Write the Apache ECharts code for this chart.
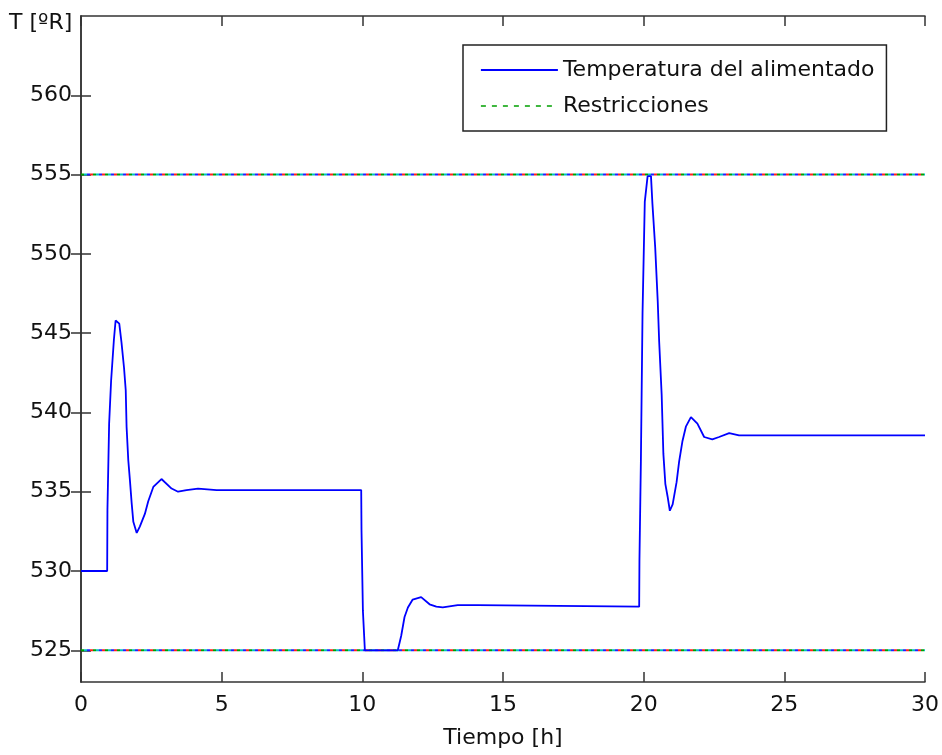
<!DOCTYPE html>
<html>
<head>
<meta charset="utf-8">
<title>Temperatura del alimentado</title>
<script src="https://cdn.jsdelivr.net/npm/echarts@6/dist/echarts.min.js"></script>
<style>
  html, body { margin: 0; padding: 0; background: #fff; }
  #chart { width: 942px; height: 755px; }
</style>
</head>
<body>
<div id="chart"></div>
<script>
/* datos */
const timeHours = [
  0, 0.93, 0.94, 1.0, 1.07, 1.17, 1.23, 1.36, 1.44, 1.53, 1.59, 1.62, 1.68, 1.74, 1.80, 1.86,
  1.98, 2.09, 2.27, 2.39, 2.57, 2.86, 3.22, 3.45, 3.75, 4.16, 4.82, 9.96,
  9.97, 10.02, 10.09, 11.26, 11.38, 11.50, 11.62, 11.79, 12.09, 12.39, 12.63, 12.86, 13.39,
  14.10, 14.16, 19.84,
  19.85, 19.90, 19.96, 20.04, 20.14, 20.26, 20.31, 20.41, 20.50, 20.55, 20.64, 20.70, 20.77,
  20.85, 20.93, 21.03, 21.17, 21.26, 21.38, 21.50, 21.68, 21.91, 22.15, 22.44, 22.68, 23.04,
  23.39, 30
];
const feedTemp = [
  530.0, 530.0, 533.9, 539.3, 542.0, 544.6, 545.8, 545.6, 544.4, 542.8, 541.4, 539.1, 537.0, 535.7, 534.3, 533.1,
  532.4, 532.8, 533.6, 534.4, 535.3, 535.8, 535.2, 535.0, 535.1, 535.2, 535.1, 535.1,
  532.6, 527.5, 525.0, 525.0, 525.9, 527.1, 527.7, 528.2, 528.35, 527.9, 527.75, 527.7, 527.85,
  527.85, 527.75, 527.75,
  530.7, 536.8, 546.3, 553.3, 554.9, 554.9, 553.2, 550.4, 547.0, 544.5, 541.1, 537.4, 535.5,
  534.7, 533.8, 534.2, 535.6, 536.9, 538.2, 539.1, 539.7, 539.3, 538.45, 538.3, 538.45, 538.7,
  538.55, 538.55
];
const limitLow = 525;
const limitHigh = 555;
const timeRange = [0, 30];
const yTicks = [525, 530, 535, 540, 545, 550, 555, 560];

const font = 'DejaVu Sans';
const axisColor = '#333';

let myChart = echarts.init(document.getElementById('chart'));

let tempData = timeHours.map((t, i) => [t, feedTemp[i]]);

/* lineas de restriccion: puntos de colores superpuestos como en la figura */
let dotColors = ['#00a000', '#ff2020', '#2020ff', '#00c0c0'];
let limitSeries = [];
dotColors.forEach((c, k) => {
  [limitLow, limitHigh].forEach((lim) => {
    limitSeries.push({
      name: k === 0 ? 'Restricciones' : 'r' + k,
      type: 'line',
      symbol: 'none',
      silent: true,
      data: timeRange.map((t) => [t, lim]),
      lineStyle: { color: c, width: 2, type: [3, 9], dashOffset: k * 3 },
      itemStyle: { color: c },
      z: 1
    });
  });
});

let mirrorAxis = {
  axisLine: { show: true, lineStyle: { color: axisColor, width: 1.5 } },
  axisTick: { inside: true, length: 10, lineStyle: { color: axisColor, width: 1.5 } },
  axisLabel: { show: false },
  splitLine: { show: false }
};

let option = {
  animation: false,
  backgroundColor: '#fff',
  textStyle: { fontFamily: font },
  grid: { left: 81, right: 16, top: 16, bottom: 73 },
  legend: {
    orient: 'vertical',
    left: 463,
    top: 45,
    padding: [14, 12, 14, 17],
    itemWidth: 77,
    itemHeight: 20,
    itemGap: 14,
    borderColor: '#222',
    borderWidth: 1.5,
    backgroundColor: '#fff',
    itemStyle: { opacity: 0 },
    textStyle: { fontFamily: font, fontSize: 22, color: '#111', padding: [0, 0, 0, 0] },
    data: [
      { name: 'Temperatura del alimentado', lineStyle: { color: '#0000ff', width: 1.8 } },
      { name: 'Restricciones', lineStyle: { color: '#00a000', type: [5, 6], width: 1.5 } }
    ]
  },
  graphic: [{
    type: 'text',
    left: 9,
    top: 12,
    style: { text: 'T [ºR]', font: '22px "DejaVu Sans"', fill: '#111' }
  }],
  xAxis: [{
    type: 'value',
    min: 0,
    max: 30,
    interval: 5,
    name: 'Tiempo [h]',
    nameLocation: 'middle',
    nameGap: 45,
    nameTextStyle: { fontFamily: font, fontSize: 22, color: '#111' },
    axisLine: { show: true, lineStyle: { color: axisColor, width: 1.5 } },
    axisTick: { inside: true, length: 10, lineStyle: { color: axisColor, width: 1.5 } },
    axisLabel: { fontFamily: font, fontSize: 22, color: '#111', margin: 12 },
    splitLine: { show: false }
  }, Object.assign({
    type: 'value', position: 'top', min: 0, max: 30, interval: 5
  }, mirrorAxis)],
  yAxis: [{
    type: 'value',
    min: 523,
    max: 565,
    axisLine: { show: true, lineStyle: { color: axisColor, width: 1.5 } },
    axisTick: { inside: true, length: 10, customValues: yTicks, lineStyle: { color: axisColor, width: 1.5 } },
    axisLabel: { fontFamily: font, fontSize: 22, color: '#111', margin: 9, customValues: yTicks },
    splitLine: { show: false }
  }, Object.assign({}, mirrorAxis, {
    type: 'value', position: 'right', min: 523, max: 565,
    axisTick: { inside: true, length: 10, customValues: yTicks, lineStyle: { color: axisColor, width: 1.5 } },
    axisLabel: { show: false, customValues: yTicks }
  })],
  series: [{
    name: 'Temperatura del alimentado',
    type: 'line',
    symbol: 'none',
    data: tempData,
    lineStyle: { color: '#0000ff', width: 1.8 },
    itemStyle: { color: '#0000ff' },
    z: 3
  }].concat(limitSeries)
};

myChart.setOption(option);
</script>
</body>
</html>
